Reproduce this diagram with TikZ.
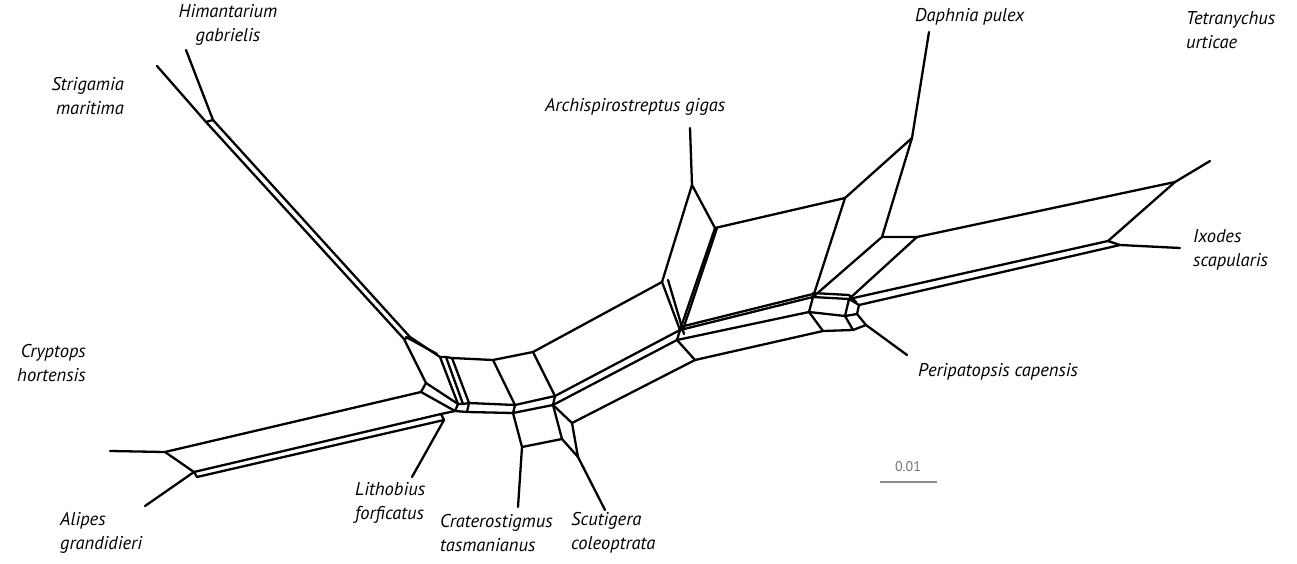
\documentclass[tikz,border=0pt]{standalone}
\usepackage{fontspec}
\setmainfont{PT Sans}
\begin{document}
\begin{tikzpicture}[x=1pt,y=-1pt,
  net/.style={line width=2.3pt,line join=round,line cap=round,black},
  taxon/.style={font=\fontsize{18.5}{24}\selectfont\itshape,anchor=west,align=left,inner sep=0pt},
  scalebar/.style={line width=2.2pt,black!45}]
\useasboundingbox (0,0) rectangle (1297,564);
% coordinates
\coordinate (hg) at (186,50);
\coordinate (sm) at (157,66);
\coordinate (Ha) at (206,122);
\coordinate (Hb) at (213,120);
\coordinate (Ca) at (404,339);
\coordinate (Cb) at (410,337);
\coordinate (C5) at (426,383);
\coordinate (C6) at (421,392);
\coordinate (C2a) at (440,357);
\coordinate (C2b) at (446,357);
\coordinate (C2c) at (452,358);
\coordinate (C3) at (493,360);
\coordinate (C4) at (533,352);
\coordinate (D1) at (458,404);
\coordinate (D2) at (463,404);
\coordinate (D3) at (469,403);
\coordinate (E0) at (455,411);
\coordinate (E1) at (467,412);
\coordinate (B3) at (515,405);
\coordinate (B4) at (555,396);
\coordinate (F3) at (513,413);
\coordinate (F4) at (553,405);
\coordinate (G1) at (522,447);
\coordinate (G2) at (562,439);
\coordinate (G3) at (572,423);
\coordinate (G4) at (578,457);
\coordinate (cr) at (518,507);
\coordinate (sc) at (605,510);
\coordinate (K1) at (165,452);
\coordinate (cy) at (110,451);
\coordinate (K2) at (194,472);
\coordinate (K3) at (197,477);
\coordinate (al) at (145,506);
\coordinate (L1) at (441,414);
\coordinate (L2) at (444,420);
\coordinate (li) at (412,477);
\coordinate (J) at (680,330);
\coordinate (J2) at (677,340);
\coordinate (J3) at (695,360);
\coordinate (A1) at (662,282);
\coordinate (A2) at (692,185);
\coordinate (A3) at (715,228);
\coordinate (ar) at (690,128);
\coordinate (M1) at (845,198);
\coordinate (Dp) at (912,138);
\coordinate (dp) at (929,32);
\coordinate (M2) at (882,237);
\coordinate (M3) at (917,237);
\coordinate (T) at (1175,182);
\coordinate (te) at (1210,161);
\coordinate (X1) at (1108,241);
\coordinate (X2) at (1120,245);
\coordinate (ix) at (1180,248);
\coordinate (P1) at (813,297);
\coordinate (P2) at (849,299);
\coordinate (P3) at (859,305);
\coordinate (P4) at (857,314);
\coordinate (P5) at (845,316);
\coordinate (P6) at (809,312);
\coordinate (P7) at (823,331);
\coordinate (P8) at (853,330);
\coordinate (P9) at (866,325);
\coordinate (pe) at (907,355);
% network edges
\draw[net] (hg) -- (Hb) -- (Ha) -- (sm);
\draw[net] (Ha) -- (Ca) -- (Cb) -- (Hb);
\draw[net] (Ca) -- (C5);
\draw[net] (Cb) -- (C2a);
\draw[net] ([xshift=-4pt]Cb) -- ([xshift=-3pt,yshift=3pt]C2a);
\draw[net] (C2a) -- (C2b) -- (C2c) -- (C3) -- (C4) -- (A1);
\draw[net] (C2a) -- (D1);
\draw[net] (C2b) -- (D2);
\draw[net] (C2c) -- (D3);
\draw[net] (D1) -- (D2) -- (D3) -- (B3) -- (B4);
\draw[net] (C5) -- (D1);
\draw[net] (C5) -- (C6) -- (E0);
\draw[net] (D1) -- (E0) -- (E1) -- (F3) -- (F4);
\draw[net] (D3) -- (E1);
\draw[net] (C3) -- (B3) -- (F3);
\draw[net] (C4) -- (B4) -- (F4);
\draw[net] (C6) -- (K1) -- (cy);
\draw[net] (K1) -- (K2) -- (al);
\draw[net] (K2) -- (K3);
\draw[net] (K2) -- (L1) -- (L2) -- (K3);
\draw[net] (L1) -- (E0);
\draw[net] (L2) -- (li);
\draw[net] (F3) -- (G1) -- (G2) -- (F4);
\draw[net] (F4) -- (G3) -- (G4) -- (G2);
\draw[net] (G1) -- (cr);
\draw[net] (G4) -- (sc);
\draw[net] (B4) -- (J);
\draw[net] (F4) -- (J2);
\draw[net] (G3) -- (J3);
\draw[net] (J) -- (J2) -- (J3);
\draw[net] (A1) -- (A2) -- (A3) -- (J);
\draw[net] ([xshift=2pt]A3) -- ([xshift=2.5pt,yshift=-1pt]J);
\draw[net] (A1) -- (J);
\draw[net] ([xshift=6pt,yshift=2pt]A1) -- ([xshift=4pt,yshift=-4pt]J);
\draw[net] (A2) -- (ar);
\draw[net] (J) -- (P1);
\draw[net] ([yshift=3pt]J) -- ([yshift=3pt]P1);
\draw[net] (J2) -- (P6);
\draw[net] (J3) -- (P7);
\draw[net] (P1) -- (P2) -- (P3) -- (P4) -- (P5) -- (P6) -- cycle;
\draw[net] ([yshift=4pt]P1) -- ([yshift=4pt]P2) -- ([xshift=-3pt,yshift=3pt]P3);
\draw[net] (P2) -- (P5);
\draw[net] (P6) -- (P7) -- (P8) -- (P5);
\draw[net] (P4) -- (P9) -- (P8);
\draw[net] (P9) -- (pe);
\draw[net] (A3) -- (M1) -- (P1);
\draw[net] (M1) -- (Dp) -- (dp);
\draw[net] (Dp) -- (M2) -- (P1);
\draw[net] (M2) -- (M3) -- (P2);
\draw[net] (M3) -- (T) -- (te);
\draw[net] (T) -- (X1) -- (X2) -- (ix);
\draw[net] (X1) -- (P2);
\draw[net] (X2) -- (P3);
% labels
\node[taxon,align=center,anchor=north] (lHim) at (228,4) {Himantarium\\gabrielis};
\node[taxon,align=right,anchor=east] (lStr) at (124,96) {Strigamia\\maritima};
\node[taxon,align=right,anchor=east] (lCry) at (86,363) {Cryptops\\hortensis};
\node[taxon] (lAli) at (60,533) {Alipes\\grandidieri};
\node[taxon] (lLit) at (355,503) {Lithobius\\forficatus};
\node[taxon] (lCra) at (440,533) {Craterostigmus\\tasmanianus};
\node[taxon] (lScu) at (571,533) {Scutigera\\coleoptrata};
\node[taxon] (lArc) at (545,107) {Archispirostreptus gigas};
\node[taxon] (lDap) at (915,17) {Daphnia pulex};
\node[taxon] (lTet) at (1186,30) {Tetranychus\\urticae};
\node[taxon] (lIxo) at (1193,250) {Ixodes\\scapularis};
\node[taxon] (lPer) at (918,372) {Peripatopsis capensis};
% scale bar
\coordinate (s1) at (880,482);
\coordinate (s2) at (937,482);
\draw[scalebar] (s1) -- (s2);
\node[font=\fontsize{14}{16}\selectfont,text=black!55,inner sep=0pt] (lsc) at (908,467) {0.01};
\end{tikzpicture}
\end{document}
